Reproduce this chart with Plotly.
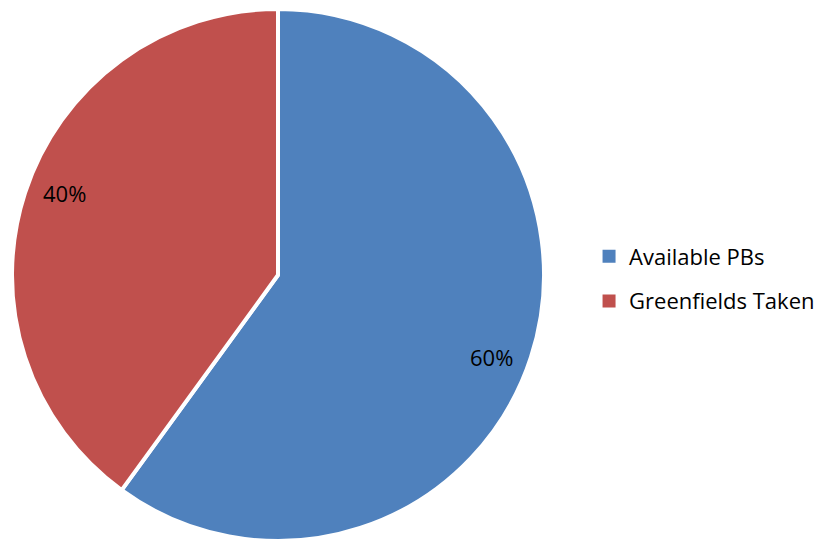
import math
import plotly.graph_objects as go

# Share of sites by status
categories = ["Available PBs", "Greenfields Taken"]
shares = [60, 40]
colors = ["#4F81BD", "#C0504D"]

FONT = "Open Sans"
W, H = 825, 541

# Pie domain (paper fractions)
dom_x = [12 / W, 544 / W]
dom_y = [0.0, 532 / H]

fig = go.Figure()
fig.add_trace(go.Pie(
    labels=categories,
    values=shares,
    marker=dict(colors=colors, line=dict(color="white", width=4)),
    sort=False,
    direction="clockwise",
    rotation=0,
    textinfo="none",
    hoverinfo="label+percent",
    showlegend=False,
    domain=dict(x=dom_x, y=dom_y),
))

# Percentage labels placed inside each slice, near its mid-angle
cx = (dom_x[0] + dom_x[1]) / 2 * W
cy = (dom_y[0] + dom_y[1]) / 2 * H
radius = min((dom_x[1] - dom_x[0]) * W, (dom_y[1] - dom_y[0]) * H) / 2
total = sum(shares)
start = 0.0
for v in shares:
    mid = (start + v / 2) / total * 2 * math.pi + math.radians(3)
    start += v
    r = 0.86 * radius
    px = cx + r * math.sin(mid)
    py = cy + r * math.cos(mid)
    fig.add_annotation(
        x=px / W, y=py / H, xref="paper", yref="paper",
        xanchor="center", yanchor="middle",
        text=f"{round(v / total * 100)}%", showarrow=False,
        font=dict(family=FONT, size=22, color="black"),
    )

# Legend entries
for i, (name, col) in enumerate(zip(categories, colors)):
    fig.add_trace(go.Scatter(
        x=[None], y=[None], mode="markers", name=name,
        marker=dict(symbol="square", size=13, color=col),
        legendgroup=f"g{i}", showlegend=True,
    ))

fig.update_layout(
    width=W, height=H,
    margin=dict(l=0, r=0, t=0, b=0),
    paper_bgcolor="white",
    plot_bgcolor="white",
    xaxis=dict(visible=False),
    yaxis=dict(visible=False),
    legend=dict(
        x=0.714, y=(H - 279) / H, xanchor="left", yanchor="middle",
        font=dict(family=FONT, size=22, color="black"),
        tracegroupgap=13,
        bgcolor="rgba(0,0,0,0)",
    ),
)

fig.write_html("out.html")
